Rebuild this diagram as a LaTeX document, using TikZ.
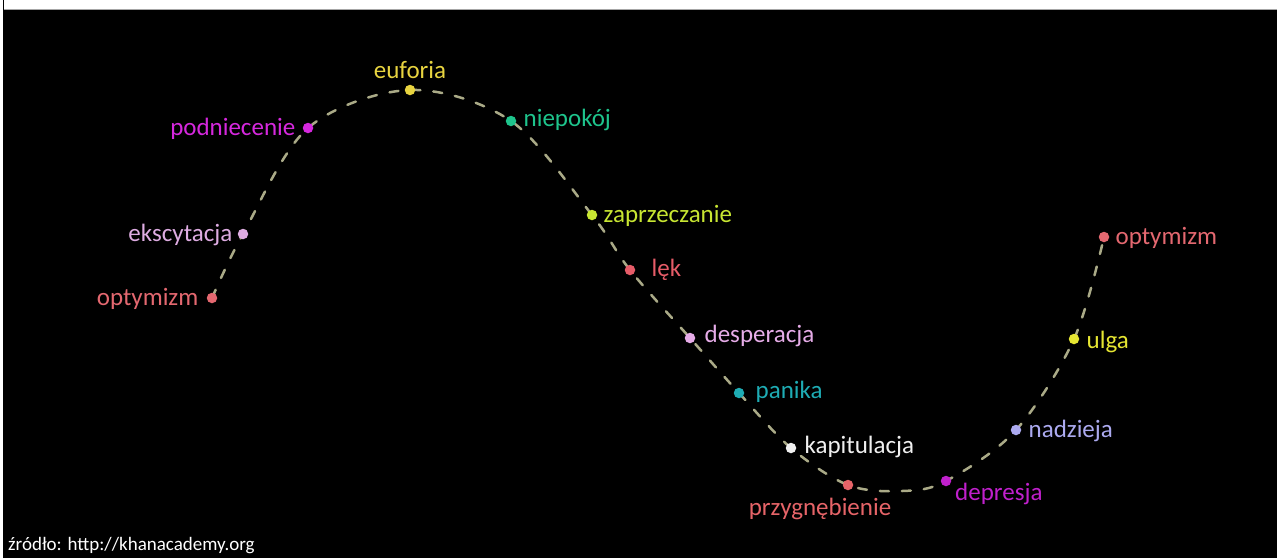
\documentclass[tikz,border=0pt]{standalone}
\usepackage{fontspec}
\setmainfont{Carlito}
\definecolor{cOpt}{RGB}{228,104,112}
\definecolor{cEks}{RGB}{222,172,226}
\definecolor{cPod}{RGB}{214,40,222}
\definecolor{cEuf}{RGB}{232,212,64}
\definecolor{cNie}{RGB}{30,196,140}
\definecolor{cZap}{RGB}{200,230,50}
\definecolor{cLek}{RGB}{230,92,104}
\definecolor{cDes}{RGB}{230,172,232}
\definecolor{cPan}{RGB}{30,172,180}
\definecolor{cKap}{RGB}{240,240,240}
\definecolor{cPrz}{RGB}{230,100,104}
\definecolor{cDep}{RGB}{192,32,204}
\definecolor{cNad}{RGB}{172,170,240}
\definecolor{cUlg}{RGB}{230,230,50}
\definecolor{cCurve}{RGB}{170,170,135}
\begin{document}
\begin{tikzpicture}[x=1pt,y=-1pt,
  dot/.style={circle,inner sep=0pt,minimum size=10.5pt,fill=#1,draw=none},
  lab/.style={inner sep=0pt,text=#1,font=\fontsize{25}{30}\selectfont},
  curve/.style={cCurve,line width=2.5pt,dash pattern=on 9pt off 13pt,line cap=round}]
\useasboundingbox (0,0) rectangle (1277,558);
\fill[white] (0,0) rectangle (1277,558);
\fill[black] (3,9) rectangle (1277,558);
\draw[gray!70,line width=1.5pt] (4,9.5) -- (1277,9.5);
\draw[black,line width=1pt] (3.5,0) -- (3.5,9);
% positions
\coordinate (pOptL) at (212,298);
\coordinate (pEks) at (243,234);
\coordinate (pPod) at (308,128);
\coordinate (pEuf) at (410,90);
\coordinate (pNie) at (511,121);
\coordinate (pZap) at (592,215);
\coordinate (pLek) at (630,270);
\coordinate (pDes) at (690,338);
\coordinate (pPan) at (739,393);
\coordinate (pKap) at (791,448);
\coordinate (pPrz) at (848,485);
\coordinate (pLow) at (902,491);
\coordinate (pDep) at (946,481);
\coordinate (pNad) at (1016,430);
\coordinate (pUlg) at (1074,339);
\coordinate (pOptR) at (1104,237);
% curve
\draw[curve] plot[smooth,tension=0.55] coordinates {(pOptL) (pEks) (pPod) (pEuf) (pNie) (pZap) (pLek) (pDes) (pPan) (pKap) (pPrz) (pLow) (pDep) (pNad) (pUlg) (pOptR)};
% dots
\node[dot=cOpt] (dOptL) at (pOptL) {};
\node[dot=cEks] (dEks) at (pEks) {};
\node[dot=cPod] (dPod) at (pPod) {};
\node[dot=cEuf] (dEuf) at (pEuf) {};
\node[dot=cNie] (dNie) at (pNie) {};
\node[dot=cZap] (dZap) at (pZap) {};
\node[dot=cLek] (dLek) at (pLek) {};
\node[dot=cDes] (dDes) at (pDes) {};
\node[dot=cPan] (dPan) at (pPan) {};
\node[dot=cKap] (dKap) at (pKap) {};
\node[dot=cPrz] (dPrz) at (pPrz) {};
\node[dot=cDep] (dDep) at (pDep) {};
\node[dot=cNad] (dNad) at (pNad) {};
\node[dot=cUlg] (dUlg) at (pUlg) {};
\node[dot=cOpt] (dOptR) at (pOptR) {};
% labels
\node[lab=cOpt,anchor=mid east] (lOptL) at ([xshift=-8pt,yshift=-5pt]dOptL.west) {optymizm};
\node[lab=cEks,anchor=mid east] (lEks) at ([xshift=-5pt,yshift=-5pt]dEks.west) {ekscytacja};
\node[lab=cPod,anchor=mid east] (lPod) at ([xshift=-7pt,yshift=-5pt]dPod.west) {podniecenie};
\node[lab=cEuf,anchor=base] (lEuf) at ([yshift=6pt]dEuf.north) {euforia};
\node[lab=cNie,anchor=mid west] (lNie) at ([xshift=7pt,yshift=-3pt]dNie.east) {niepokój};
\node[lab=cZap,anchor=mid west] (lZap) at ([xshift=6pt,yshift=-5pt]dZap.east) {zaprzeczanie};
\node[lab=cLek,anchor=mid west] (lLek) at ([xshift=16pt,yshift=-4pt]dLek.east) {lęk};
\node[lab=cDes,anchor=mid west] (lDes) at ([xshift=9pt,yshift=-2pt]dDes.east) {desperacja};
\node[lab=cPan,anchor=mid west] (lPan) at ([xshift=11pt,yshift=-3pt]dPan.east) {panika};
\node[lab=cKap,anchor=mid west] (lKap) at ([xshift=8pt,yshift=-3pt]dKap.east) {kapitulacja};
\node[lab=cPrz,anchor=base] (lPrz) at ([xshift=-28pt,yshift=-30pt]dPrz.center) {przygnębienie};
\node[lab=cDep,anchor=base west] (lDep) at ([xshift=9pt,yshift=-19pt]dDep.center) {depresja};
\node[lab=cNad,anchor=mid west] (lNad) at ([xshift=7pt,yshift=-5pt]dNad.east) {nadzieja};
\node[lab=cUlg,anchor=mid west] (lUlg) at ([xshift=7pt,yshift=-7pt]dUlg.east) {ulga};
\node[lab=cOpt,anchor=mid west] (lOptR) at ([xshift=6pt,yshift=-5pt]dOptR.east) {optymizm};
% source
\node[inner sep=0pt,anchor=base west,text=white,font=\fontsize{19}{22}\selectfont] (src) at (8,550) {źródło: http://khanacademy.org};
\end{tikzpicture}
\end{document}
